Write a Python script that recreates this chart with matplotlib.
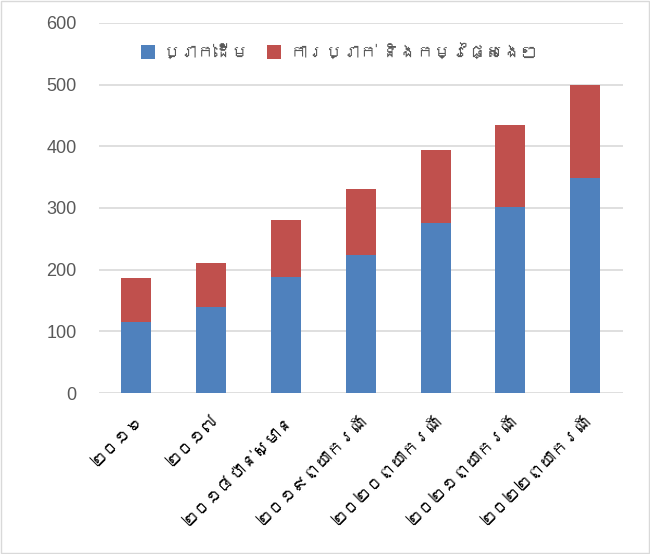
import matplotlib
matplotlib.use("Agg")
import matplotlib.pyplot as plt
from matplotlib import font_manager
from matplotlib.ft2font import FT2Font
from matplotlib.patches import Rectangle

# ទិន្នន័យ
categories = ["២០១៦", "២០១៧", "២០១៨ប៉ាន់ស្មាន", "២០១៩ព្យាករណ៍",
              "២០២០ព្យាករណ៍", "២០២១ព្យាករណ៍", "២០២២ព្យាករណ៍"]
principal = [115, 140, 188, 223, 275, 302, 348]
interest = [71, 70, 93, 107, 119, 132, 152]
series_names = ["ប្រាក់ដើម", "ការប្រាក់ និងកម្រៃផ្សេងៗ"]
yticks = [0, 100, 200, 300, 400, 500, 600]


def find_khmer_font():
    # look for any installed font that has Khmer glyphs
    for path in sorted(font_manager.findSystemFonts()):
        try:
            cmap = FT2Font(path).get_charmap()
        except Exception:
            continue
        if 0x1780 in cmap and 0x17D2 in cmap:
            return font_manager.FontProperties(fname=path).get_name()
    return None


khmer = find_khmer_font()
families = ["Liberation Sans"] + ([khmer] if khmer else []) + ["DejaVu Sans"]
plt.rcParams["font.family"] = families

fig = plt.figure(figsize=(6.5, 5.54), dpi=100)
ax = fig.add_axes([0.152, 0.2906, 0.806, 0.668])

x = range(len(categories))
ax.bar(x, principal, width=0.4, color="#4f81bd", label=series_names[0], zorder=3)
ax.bar(x, interest, width=0.4, bottom=principal, color="#c0504d",
       label=series_names[1], zorder=3)

ax.set_ylim(0, 600)
ax.set_xlim(-0.5, len(categories) - 0.5)
ax.set_yticks(yticks)
ax.set_xticks(list(x))
ax.set_xticklabels(categories, rotation=45, ha="right", rotation_mode="anchor",
                   fontsize=12)
ax.tick_params(axis="y", labelsize=13, length=0, pad=16, colors="#595959")
ax.tick_params(axis="x", length=0, pad=14)
ax.grid(axis="y", color="#d9d9d9", linewidth=1.2, zorder=0)
for s in ax.spines.values():
    s.set_visible(False)

ax.legend(loc="upper left", bbox_to_anchor=(0.05, 0.985), ncol=2, frameon=False,
          fontsize=12.5, handlelength=0.8, handleheight=0.8, handletextpad=0.5,
          columnspacing=1.0, labelcolor="#595959")

fig.patches.append(Rectangle((0.001, 0.001), 0.997, 0.997, transform=fig.transFigure,
                             fill=False, edgecolor="#d9d9d9", linewidth=1))

fig.savefig("out.png", dpi=100)
